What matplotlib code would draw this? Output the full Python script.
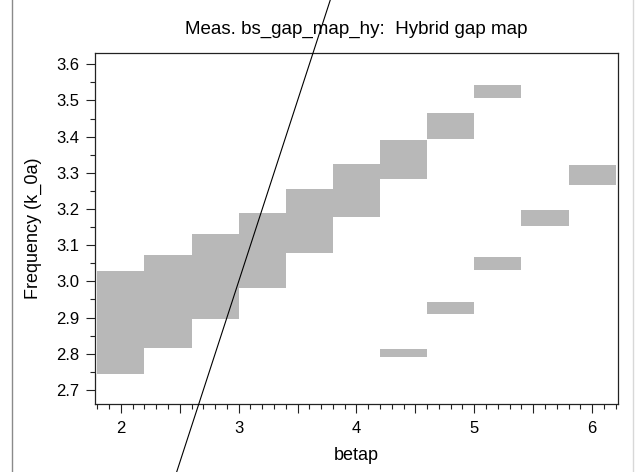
import matplotlib.pyplot as plt
import numpy as np
from matplotlib.lines import Line2D
from matplotlib.ticker import MultipleLocator, FuncFormatter

plt.rcParams['font.family'] = ['Liberation Sans', 'DejaVu Sans']

# gap rectangles: betap bin edges and frequency range of each gap
bin_left = [1.8, 2.2, 2.6, 3.0, 3.4, 3.8, 4.2, 4.6, 5.0, 5.4, 5.8,
            4.2, 4.6, 5.0]
bin_width = 0.4
gap_lo = [2.745, 2.817, 2.896, 2.982, 3.079, 3.178, 3.284, 3.394, 3.508,
          3.152, 3.267, 2.790, 2.911, 3.032]
gap_hi = [3.028, 3.074, 3.131, 3.189, 3.254, 3.323, 3.392, 3.466, 3.543,
          3.198, 3.322, 2.813, 2.943, 3.068]

# light line  k_0a = betap
light_x = [2.3, 3.9]

fig = plt.figure(figsize=(6.35, 4.72), dpi=100)
ax = fig.add_axes([0.1496, 0.1447, 0.8236, 0.743])

heights = np.array(gap_hi) - np.array(gap_lo)
ax.bar(bin_left, heights, width=bin_width, bottom=gap_lo, align='edge',
       color='#b8b8b8', linewidth=0, zorder=2)

ax.plot(light_x, light_x, color='black', lw=0.8, clip_on=False, zorder=3)

ax.set_xlim(1.78, 6.22)
ax.set_ylim(2.662, 3.631)

ax.xaxis.set_major_locator(MultipleLocator(0.5))
ax.xaxis.set_minor_locator(MultipleLocator(0.1))
ax.xaxis.set_major_formatter(FuncFormatter(
    lambda v, p: '%d' % round(v) if abs(v - round(v)) < 1e-6 else ''))
ax.yaxis.set_major_locator(MultipleLocator(0.1))
ax.yaxis.set_minor_locator(MultipleLocator(0.05))
ax.yaxis.set_major_formatter(FuncFormatter(lambda v, p: '%.1f' % v))

ax.tick_params(which='both', direction='out', width=0.8, color='#222222',
               labelsize=12)
ax.tick_params(which='major', length=6.5)
ax.tick_params(which='minor', length=3.6)
ax.tick_params(axis='x', pad=6)
ax.tick_params(axis='y', pad=5)

for s in ax.spines.values():
    s.set_linewidth(0.9)
    s.set_color('#222222')

ax.set_title('Meas. bs_gap_map_hy:  Hybrid gap map', fontsize=13.5, pad=14)
ax.set_xlabel('betap', fontsize=13, labelpad=8)
ax.set_ylabel('Frequency (k_0a)', fontsize=13, labelpad=10)

# panel borders
fig.add_artist(Line2D([12 / 635, 12 / 635], [0, 1], color='#8a8a8a', lw=1))
fig.add_artist(Line2D([633 / 635, 633 / 635], [0, 1], color='#d8d8d8', lw=1))

fig.savefig('out.png', dpi=100)
